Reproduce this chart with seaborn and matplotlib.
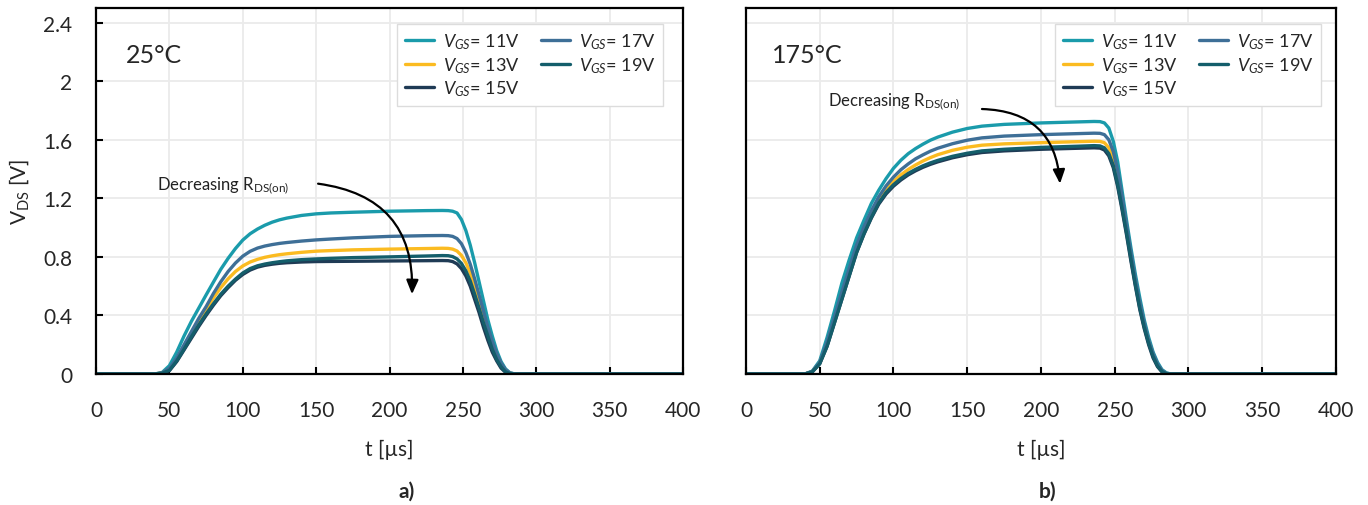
import numpy as np
import pandas as pd
import matplotlib
matplotlib.use("Agg")
import matplotlib.pyplot as plt
import seaborn as sns

# Sampling instants of the drain-source voltage traces [µs]
t_us = [0, 40, 45, 50, 55, 60, 65, 70, 75, 80,
        85, 90, 95, 100, 105, 110, 115, 120, 125, 130,
        140, 150, 160, 175, 200, 225, 236, 240, 243, 246,
        249, 252, 255, 258, 261, 264, 267, 270, 273, 276,
        279, 282, 285, 288, 292, 300, 400]

gate_labels = [r"$V_{GS}$= 11V", r"$V_{GS}$= 13V", r"$V_{GS}$= 15V",
               r"$V_{GS}$= 17V", r"$V_{GS}$= 19V"]

# V_DS [V] at 25 °C
vds_25_11 = [0, 0, 0.01, 0.057, 0.15, 0.26, 0.36, 0.45, 0.54, 0.628,
             0.715, 0.79, 0.857, 0.915, 0.958, 0.99, 1.016, 1.037, 1.053, 1.065,
             1.083, 1.094, 1.10, 1.105, 1.112, 1.116, 1.117, 1.116, 1.112, 1.10,
             1.055, 0.98, 0.88, 0.76, 0.63, 0.50, 0.37, 0.26, 0.16, 0.085,
             0.035, 0.008, 0.001, 0, 0, 0, 0]
vds_25_13 = [0, 0, 0.007, 0.035, 0.10, 0.18, 0.27, 0.36, 0.44, 0.52,
             0.59, 0.65, 0.70, 0.738, 0.765, 0.783, 0.797, 0.807, 0.815, 0.821,
             0.831, 0.839, 0.843, 0.848, 0.853, 0.857, 0.859, 0.858, 0.853, 0.84,
             0.81, 0.76, 0.69, 0.60, 0.50, 0.40, 0.30, 0.20, 0.13, 0.065,
             0.025, 0.005, 0, 0, 0, 0, 0]
vds_25_15 = [0, 0, 0.005, 0.023, 0.085, 0.165, 0.245, 0.325, 0.40, 0.47,
             0.535, 0.59, 0.64, 0.68, 0.71, 0.73, 0.742, 0.75, 0.756, 0.76,
             0.765, 0.768, 0.769, 0.77, 0.772, 0.774, 0.775, 0.774, 0.768, 0.752,
             0.72, 0.67, 0.60, 0.51, 0.42, 0.32, 0.23, 0.15, 0.09, 0.04,
             0.012, 0.002, 0, 0, 0, 0, 0]
vds_25_17 = [0, 0, 0.008, 0.04, 0.11, 0.20, 0.29, 0.38, 0.46, 0.55,
             0.63, 0.70, 0.758, 0.805, 0.838, 0.86, 0.874, 0.884, 0.892, 0.898,
             0.908, 0.916, 0.922, 0.93, 0.94, 0.945, 0.946, 0.945, 0.94, 0.925,
             0.89, 0.83, 0.75, 0.65, 0.54, 0.43, 0.32, 0.22, 0.14, 0.075,
             0.03, 0.008, 0.001, 0, 0, 0, 0]
vds_25_19 = [0, 0, 0.005, 0.025, 0.09, 0.17, 0.255, 0.335, 0.41, 0.48,
             0.545, 0.60, 0.648, 0.69, 0.72, 0.739, 0.751, 0.76, 0.767, 0.773,
             0.781, 0.786, 0.79, 0.795, 0.80, 0.806, 0.809, 0.808, 0.802, 0.786,
             0.755, 0.705, 0.635, 0.545, 0.45, 0.35, 0.26, 0.17, 0.10, 0.05,
             0.015, 0.003, 0, 0, 0, 0, 0]

# V_DS [V] at 175 °C
vds_175_11 = [0, 0, 0.02, 0.09, 0.25, 0.43, 0.62, 0.78, 0.93, 1.05,
              1.165, 1.255, 1.335, 1.405, 1.46, 1.505, 1.54, 1.57, 1.597, 1.618,
              1.652, 1.677, 1.693, 1.705, 1.715, 1.722, 1.725, 1.724, 1.715, 1.68,
              1.59, 1.45, 1.25, 1.05, 0.86, 0.68, 0.52, 0.37, 0.25, 0.15,
              0.08, 0.03, 0.008, 0, 0, 0, 0]
vds_175_13 = [0, 0, 0.016, 0.075, 0.20, 0.37, 0.53, 0.69, 0.85, 0.975,
              1.085, 1.18, 1.255, 1.315, 1.36, 1.397, 1.428, 1.455, 1.478, 1.498,
              1.528, 1.549, 1.563, 1.572, 1.58, 1.587, 1.59, 1.589, 1.58, 1.545,
              1.47, 1.34, 1.17, 0.99, 0.80, 0.63, 0.47, 0.33, 0.22, 0.13,
              0.06, 0.02, 0.003, 0, 0, 0, 0]
vds_175_15 = [0, 0, 0.015, 0.07, 0.19, 0.35, 0.51, 0.67, 0.83, 0.955,
              1.065, 1.16, 1.23, 1.283, 1.325, 1.36, 1.388, 1.412, 1.432, 1.449,
              1.477, 1.498, 1.513, 1.524, 1.535, 1.542, 1.545, 1.543, 1.53, 1.49,
              1.41, 1.28, 1.12, 0.95, 0.77, 0.60, 0.44, 0.31, 0.20, 0.11,
              0.05, 0.015, 0.002, 0, 0, 0, 0]
vds_175_17 = [0, 0, 0.018, 0.08, 0.22, 0.39, 0.56, 0.72, 0.88, 1.005,
              1.115, 1.21, 1.285, 1.345, 1.395, 1.435, 1.47, 1.497, 1.522, 1.542,
              1.573, 1.597, 1.613, 1.625, 1.635, 1.642, 1.645, 1.644, 1.635, 1.60,
              1.52, 1.39, 1.21, 1.02, 0.83, 0.65, 0.49, 0.35, 0.23, 0.14,
              0.07, 0.025, 0.005, 0, 0, 0, 0]
vds_175_19 = [0, 0, 0.015, 0.07, 0.19, 0.35, 0.51, 0.67, 0.83, 0.958,
              1.07, 1.168, 1.24, 1.293, 1.335, 1.37, 1.398, 1.422, 1.442, 1.459,
              1.487, 1.508, 1.524, 1.535, 1.548, 1.556, 1.56, 1.558, 1.545, 1.505,
              1.425, 1.295, 1.135, 0.965, 0.785, 0.61, 0.45, 0.32, 0.21, 0.12,
              0.055, 0.017, 0.002, 0, 0, 0, 0]

line_colors = ["#1a9bab", "#fbbb21", "#1f3b55", "#3e6f97", "#145e6b"]

x_ticks = [0, 50, 100, 150, 200, 250, 300, 350, 400]
y_ticks = [0, 0.4, 0.8, 1.2, 1.6, 2.0, 2.4]
y_ticklabels = ["0", "0.4", "0.8", "1.2", "1.6", "2", "2.4"]


def long_frame(series):
    rows = []
    for label, values in zip(gate_labels, series):
        rows.append(pd.DataFrame({"t": t_us, "vds": values, "gate": label}))
    return pd.concat(rows, ignore_index=True)


df25 = long_frame([vds_25_11, vds_25_13, vds_25_15, vds_25_17, vds_25_19])
df175 = long_frame([vds_175_11, vds_175_13, vds_175_15, vds_175_17, vds_175_19])

sns.set_theme(style="white")
plt.rcParams["font.family"] = ["Lato", "DejaVu Sans"]
plt.rcParams["mathtext.fontset"] = "custom"
plt.rcParams["mathtext.rm"] = "Lato"
plt.rcParams["mathtext.it"] = "Lato:italic"
plt.rcParams["mathtext.bf"] = "Lato:bold"

fig = plt.figure(figsize=(13.68, 5.06), dpi=100)
ax1 = fig.add_axes([0.0702, 0.2589, 0.4291, 0.7233])
ax2 = fig.add_axes([0.5453, 0.2589, 0.4313, 0.7233])

palette = dict(zip(gate_labels, line_colors))

for ax, df, temp, arrow in [
    (ax1, df25, "25°C", ((151.3, 1.30), (215.3, 0.545), (132.0, 1.29))),
    (ax2, df175, "175°C", ((160.0, 1.81), (212.9, 1.30), (145.0, 1.86))),
]:
    sns.lineplot(data=df, x="t", y="vds", hue="gate", hue_order=gate_labels,
                 palette=palette, linewidth=2.4, ax=ax, sort=False)
    ax.set_xlim(0, 400)
    ax.set_ylim(0, 2.5)
    ax.set_xticks(x_ticks)
    ax.set_yticks(y_ticks)
    ax.grid(True, color="#ebebeb", linewidth=1.3)
    ax.set_axisbelow(True)
    for s in ax.spines.values():
        s.set_color("black")
        s.set_linewidth(1.6)
    ax.tick_params(axis="x", direction="in", length=5, width=1.5, color="black",
                   labelsize=15, pad=19, bottom=True)
    ax.set_xlabel("t [µs]", fontsize=15, labelpad=13)
    ax.text(0.051 if ax is ax1 else 0.044, 0.872, temp, transform=ax.transAxes,
            fontsize=18, va="center", ha="left")

    start, end, txt = arrow
    ax.annotate("", xy=end, xytext=start,
                arrowprops=dict(arrowstyle="-|>,head_length=0.7,head_width=0.3",
                                connectionstyle="arc3,rad=-0.45",
                                color="black", lw=1.6, shrinkA=0, shrinkB=0))
    ax.text(txt[0], txt[1], r"Decreasing R$_{\mathrm{DS(on)}}$", fontsize=12,
            ha="right", va="center", color="#222222")

    anchor_x = 0.966 if ax is ax1 else 0.9746
    sns.move_legend(ax, "upper right", bbox_to_anchor=(anchor_x, 0.956), ncol=2,
                    title=None, frameon=True, fancybox=False, fontsize=13,
                    handlelength=1.6, handletextpad=0.5, columnspacing=1.2,
                    labelspacing=0.22, borderpad=0.4, borderaxespad=0,
                    edgecolor="#dcdcdc", framealpha=1)
    ax.get_legend().get_frame().set_linewidth(1.0)

ax1.tick_params(axis="y", direction="in", length=5, width=1.5, color="black",
                labelsize=15, pad=17, left=True)
ax1.set_yticklabels(y_ticklabels)
ax1.set_ylabel(r"V$_{\mathrm{DS}}$ [V]", fontsize=15, labelpad=9)

ax2.tick_params(axis="y", left=False, labelleft=False)
ax2.set_ylabel("")

fig.text(0.2975, 0.028, "a)", fontsize=15, fontweight="bold", ha="center", va="center")
fig.text(0.7654, 0.028, "b)", fontsize=15, fontweight="bold", ha="center", va="center")

fig.savefig("out.png", dpi=100)
